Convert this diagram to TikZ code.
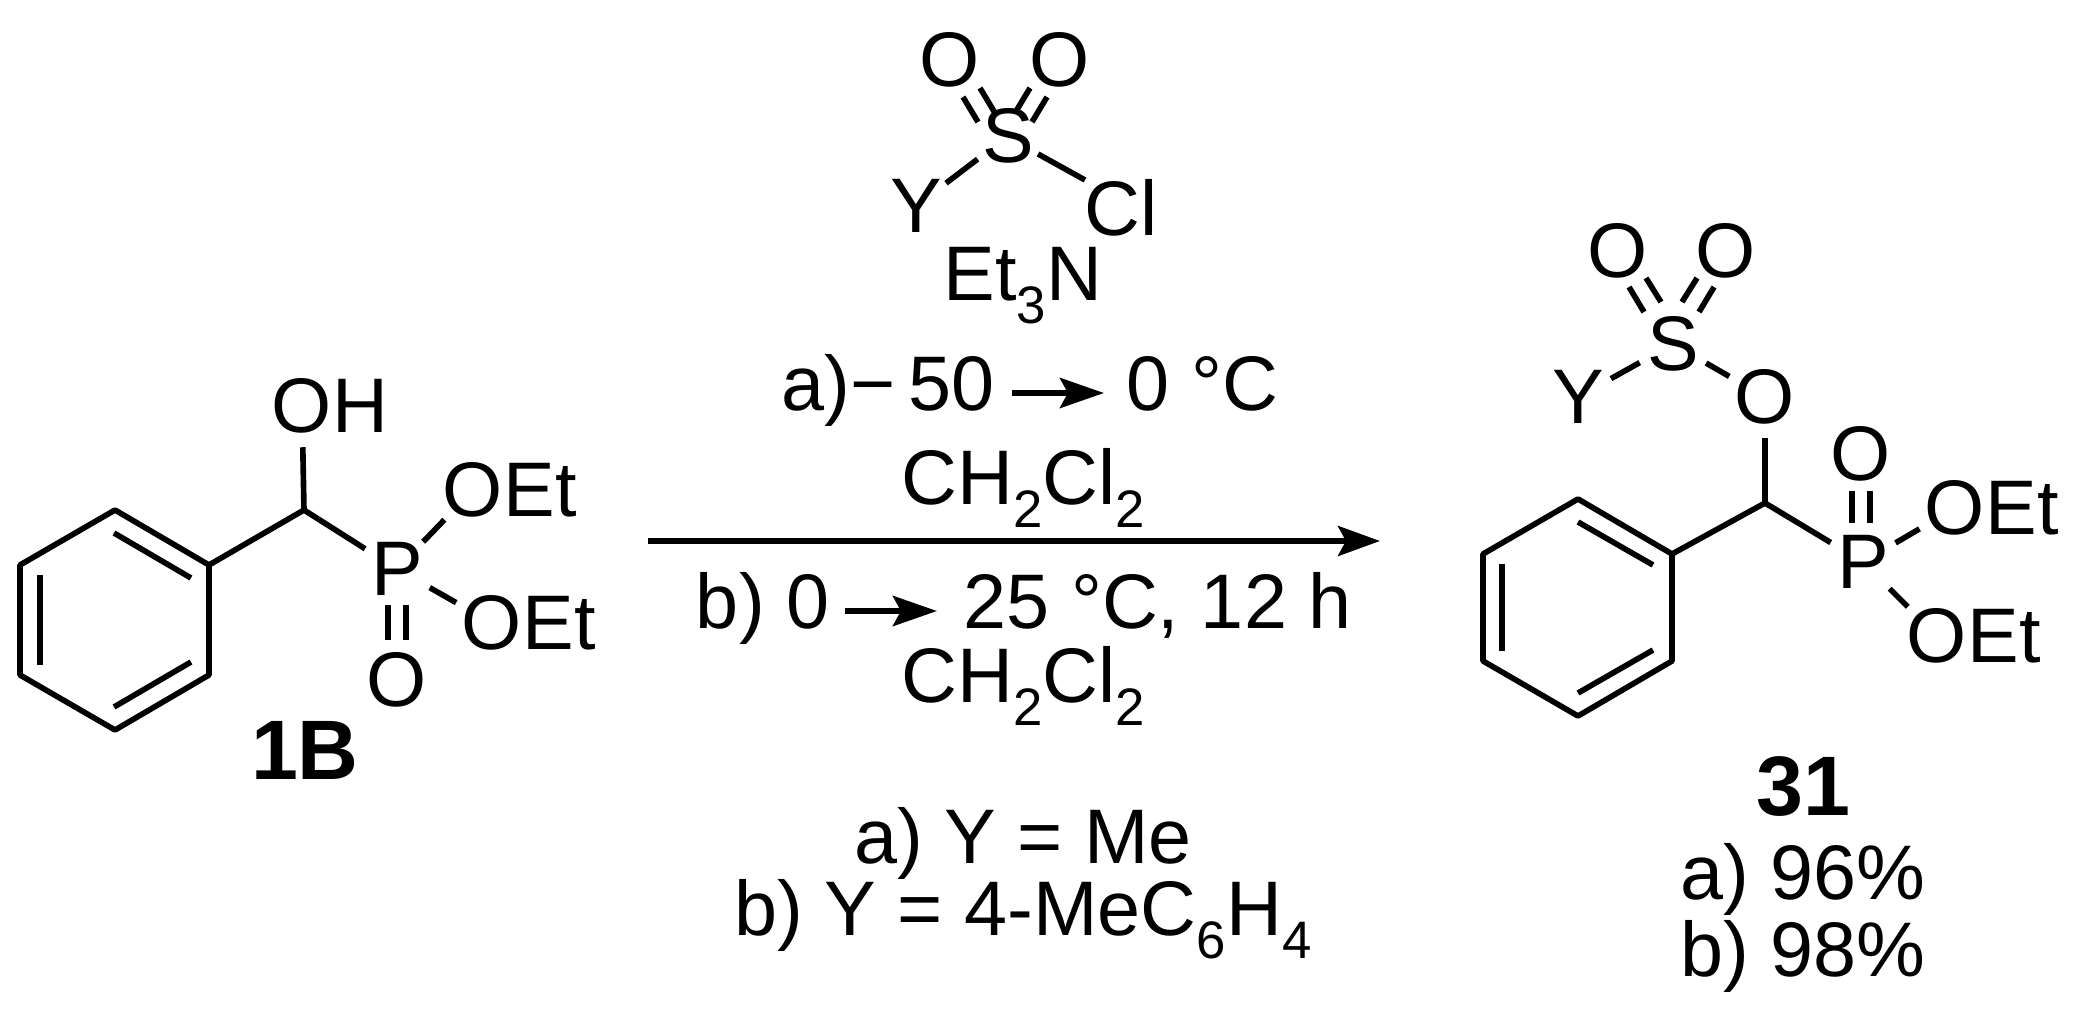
\documentclass[tikz,border=0pt]{standalone}
\usepackage{fontspec}
\setmainfont{Liberation Sans}
\usetikzlibrary{arrows.meta}
\newcommand{\chsub}[1]{\raisebox{-0.3em}{\fontsize{15}{17}\selectfont #1}}
\tikzset{
  bond/.style={line width=1.6pt},
  atom/.style={circle,inner sep=0pt,minimum size=0.74cm,font=\fontsize{22}{26}\selectfont},
  lbl/.style={inner sep=0pt,font=\fontsize{22}{26}\selectfont},
  etl/.style={inner sep=0pt,font=\fontsize{22}{26}\selectfont,anchor=base west,xshift=0.30cm},
  cond/.style={inner sep=0pt,font=\fontsize{22}{26}\selectfont},
  bold/.style={inner sep=0pt,font=\fontsize{24}{28}\selectfont\bfseries},
  sarr/.style={line width=1.8pt,-{Stealth[length=0.44cm,width=0.3cm,inset=0.08cm]}},
}
\begin{document}
\begin{tikzpicture}[x=0.01cm,y=-0.01cm]
\useasboundingbox (0,0) rectangle (2088,1015);
% ---------- 1B ----------
\coordinate (a1) at (115,510); \coordinate (a2) at (209,565); \coordinate (a3) at (209,675);
\coordinate (a4) at (115,730); \coordinate (a5) at (20,675); \coordinate (a6) at (20,565);
\draw[bond,line join=round] (a1)--(a2)--(a3)--(a4)--(a5)--(a6)--cycle;
\draw[bond] (114,533)--(191,578);
\draw[bond] (40,575)--(40,665);
\draw[bond] (191,662)--(114,707);
\coordinate (ch1) at (304,510);
\node[atom] (oh) at (302,406) {O};
\node[etl] (ohh) at (oh.base) {H};
\node[atom] (p1) at (397,569) {P};
\node[atom] (o1a) at (473,490) {O};
\node[etl] (et1a) at (o1a.base) {Et};
\node[atom] (o1b) at (492,623) {O};
\node[etl] (et1b) at (o1b.base) {Et};
\node[atom] (o1c) at (397,680) {O};
\draw[bond] (a2)--(ch1);
\draw[bond] (ch1)--(oh);
\draw[bond] (ch1)--(p1);
\draw[bond] (p1)--(o1a);
\draw[bond] (p1)--(o1b);
\draw[bond] (388,605)--(388,640);
\draw[bond] (406,605)--(406,640);
\node[bold] (l1b) at (305,750) {1B};
% ---------- reagent ----------
\node[atom] (sr) at (1008,136) {S};
\node[atom] (orl) at (950,60) {O};
\node[atom] (orr) at (1060,60) {O};
\node[atom] (yr) at (916,206) {Y};
\node[lbl] (clr) at (1121,208) {Cl};
\draw[bond] (963,97)--(978,122);
\draw[bond] (980,88)--(995,113);
\draw[bond] (1047,97)--(1032,122);
\draw[bond] (1030,88)--(1015,113);
\draw[bond] (sr)--(yr);
\draw[bond] (1038,154)--(1085,180);
\node[cond] (et3n) at (1023,286) {Et\chsub{3}N};
\node[cond,anchor=base east] (ca1) at (995,410) {a)−\,50};
\node[cond,anchor=base west] (ca2) at (1126,410) {0 °C};
\coordinate (aa1) at (1012,393); \coordinate (aa2) at (1104,393);
\draw[sarr] (aa1)--(aa2);
\node[cond] (cl1) at (1023,488) {CH\chsub{2}Cl\chsub{2}};
\coordinate (arS) at (648,541); \coordinate (arE) at (1380,541);
\draw[line width=1.6pt,-{Stealth[length=0.42cm,width=0.3cm,inset=0.08cm]}] (arS)--(arE);
\node[cond,anchor=base east] (cb1) at (830,628) {b) 0};
\node[cond,anchor=base west] (cb2) at (963,628) {25 °C, 12 h};
\coordinate (bb1) at (845,611); \coordinate (bb2) at (937,611);
\draw[sarr] (bb1)--(bb2);
\node[cond] (cl2) at (1023,686) {CH\chsub{2}Cl\chsub{2}};
\node[cond] (ya) at (1023,843) {a) Y = Me};
\node[cond] (yb) at (1023,919) {b) Y = 4-MeC\chsub{6}H\chsub{4}};
% ---------- 31 ----------
\coordinate (b1) at (1578,499); \coordinate (b2) at (1672,554); \coordinate (b3) at (1672,661);
\coordinate (b4) at (1578,716); \coordinate (b5) at (1483,661); \coordinate (b6) at (1483,554);
\draw[bond,line join=round] (b1)--(b2)--(b3)--(b4)--(b5)--(b6)--cycle;
\draw[bond] (1578,522)--(1653,565);
\draw[bond] (1502,564)--(1502,651);
\draw[bond] (1653,650)--(1578,693);
\coordinate (ch2) at (1765,503);
\node[atom] (o2) at (1765,397) {O};
\node[atom] (s2) at (1673,344) {S};
\node[atom] (y2) at (1578,397) {Y};
\node[atom] (o2l) at (1618,251) {O};
\node[atom] (o2r) at (1726,251) {O};
\node[atom] (p2) at (1863,562) {P};
\node[atom] (o2p) at (1861,454) {O};
\node[atom] (o2a) at (1955,508) {O};
\node[etl] (et2a) at (o2a.base) {Et};
\node[atom] (o2b) at (1937,636) {O};
\node[etl] (et2b) at (o2b.base) {Et};
\draw[bond] (b2)--(ch2);
\draw[bond] (ch2)--(o2);
\draw[bond] (o2)--(s2);
\draw[bond] (s2)--(y2);
\draw[bond] (1629,287)--(1644,312);
\draw[bond] (1646,278)--(1661,302);
\draw[bond] (1714,287)--(1699,312);
\draw[bond] (1697,278)--(1682,302);
\draw[bond] (ch2)--(p2);
\draw[bond] (1852,491)--(1852,523);
\draw[bond] (1870,491)--(1870,523);
\draw[bond] (p2)--(o2a);
\draw[bond] (p2)--(o2b);
\node[bold] (l31) at (1803,786) {31};
\node[cond] (ya2) at (1803,879) {a) 96\%};
\node[cond] (yb2) at (1803,956) {b) 98\%};
\end{tikzpicture}
\end{document}
